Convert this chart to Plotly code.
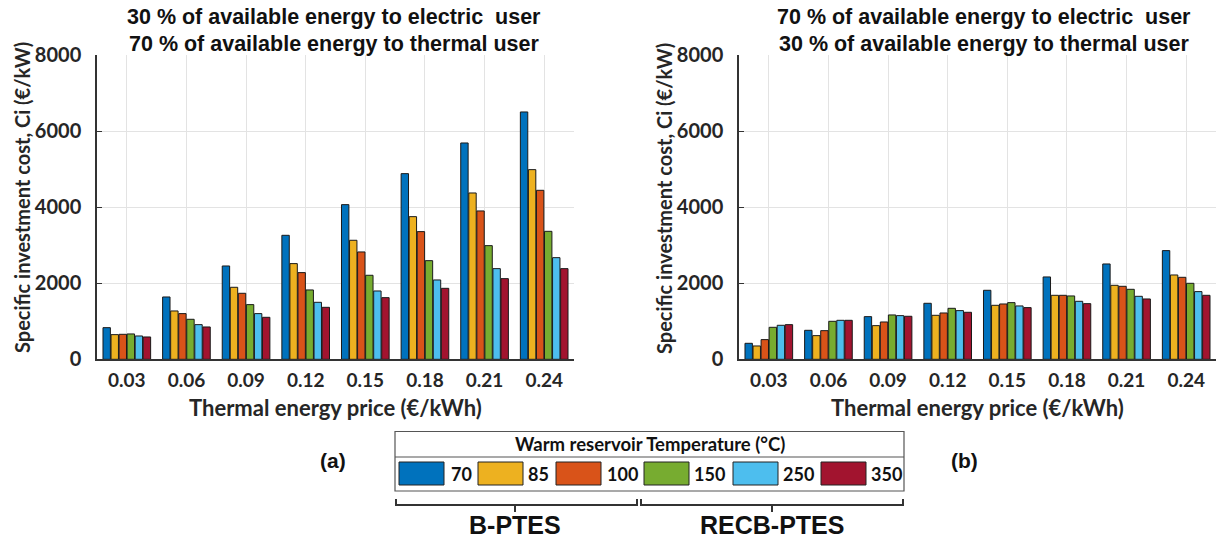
import plotly.graph_objects as go

W, H = 1221, 539

categories = ["0.03", "0.06", "0.09", "0.12", "0.15", "0.18", "0.21", "0.24"]
temps = ["70", "85", "100", "150", "250", "350"]
colors = ["#0072BD", "#EDB120", "#D95319", "#77AC30", "#4DBEEE", "#A2142F"]

# Panel (a): 30 % electric / 70 % thermal
a_70 = [833, 1640, 2456, 3263, 4070, 4886, 5693, 6509]
a_85 = [649, 1272, 1895, 2518, 3132, 3754, 4377, 4991]
a_100 = [658, 1202, 1737, 2281, 2825, 3360, 3904, 4447]
a_150 = [667, 1053, 1439, 1825, 2211, 2596, 2991, 3368]
a_250 = [614, 912, 1202, 1500, 1798, 2088, 2386, 2675]
a_350 = [588, 851, 1105, 1368, 1623, 1868, 2123, 2386]

# Panel (b): 70 % electric / 30 % thermal
b_70 = [421, 763, 1123, 1474, 1816, 2167, 2509, 2860]
b_85 = [351, 623, 886, 1158, 1421, 1684, 1947, 2219]
b_100 = [518, 754, 982, 1219, 1456, 1684, 1921, 2158]
b_150 = [842, 1000, 1167, 1342, 1491, 1667, 1842, 2000]
b_250 = [895, 1026, 1149, 1281, 1404, 1526, 1658, 1781]
b_350 = [912, 1026, 1132, 1237, 1360, 1465, 1588, 1684]

series_a = [a_70, a_85, a_100, a_150, a_250, a_350]
series_b = [b_70, b_85, b_100, b_150, b_250, b_350]

y_ticks = [0, 2000, 4000, 6000, 8000]
title_a = ["30 % of available energy to electric  user", "70 % of available energy to thermal user"]
title_b = ["70 % of available energy to electric  user", "30 % of available energy to thermal user"]
x_title = "Thermal energy price (€/kWh)"
y_title = "Specific investment cost, Ci (€/kW)"
legend_title = "Warm reservoir Temperature (°C)"
group_labels = ["B-PTES", "RECB-PTES"]
panel_labels = ["(a)", "(b)"]

TICKFONT = "Lato, 'Open Sans', sans-serif"
ARIAL = "'Liberation Sans', Arial, sans-serif"


def px(x):
    return x / W


def py(y):
    return 1 - y / H


def f(family, size, color="#1a1a1a"):
    return dict(family=family, size=size, color=color, weight="bold")


fig = go.Figure()

for i in range(6):
    fig.add_trace(go.Bar(x=categories, y=series_a[i], name=temps[i], xaxis="x", yaxis="y",
                         marker=dict(color=colors[i], line=dict(color="#1a1a1a", width=1)),
                         showlegend=False))
for i in range(6):
    fig.add_trace(go.Bar(x=categories, y=series_b[i], name=temps[i], xaxis="x2", yaxis="y2",
                         marker=dict(color=colors[i], line=dict(color="#1a1a1a", width=1)),
                         showlegend=False))

plot_top, plot_bot = 55.3, 359.3
axcommon_x = dict(type="category", showgrid=True, gridcolor="#e3e3e3", gridwidth=1,
                  showline=True, linecolor="#333333", linewidth=1.5, ticks="",
                  tickfont=f(TICKFONT, 19, "#262626"), automargin=False,
                  ticklabelstandoff=3, fixedrange=True)
axcommon_y = dict(range=[0, 8000], tickvals=y_ticks, showgrid=True, gridcolor="#e3e3e3",
                  gridwidth=1, showline=True, linecolor="#333333", linewidth=1.5,
                  ticks="inside", ticklen=5, tickcolor="#333333", zeroline=False,
                  tickfont=f(TICKFONT, 20, "#262626"), automargin=False,
                  ticklabelstandoff=10, fixedrange=True)

fig.update_layout(
    width=W, height=H, autosize=False, margin=dict(l=0, r=0, t=0, b=0, pad=0),
    paper_bgcolor="white", plot_bgcolor="white",
    barmode="group", bargap=0.19, bargroupgap=0.08,
    xaxis=dict(domain=[px(97), px(574)], anchor="y", **axcommon_x),
    yaxis=dict(domain=[py(plot_bot), py(plot_top)], anchor="x", **axcommon_y),
    xaxis2=dict(domain=[px(739), px(1216)], anchor="y2", **axcommon_x),
    yaxis2=dict(domain=[py(plot_bot), py(plot_top)], anchor="x2", **axcommon_y),
)

ann = []
shapes = []

# titles
for cx, lines in [(334, title_a), (984, title_b)]:
    for j, t in enumerate(lines):
        ann.append(dict(x=px(cx), y=py(17 + j * 27), xref="paper", yref="paper", text=t,
                        showarrow=False, xanchor="center", yanchor="middle",
                        font=f(ARIAL, 21.5, "#111111")))
for cx in [335.5, 977.5]:
    ann.append(dict(x=px(cx), y=py(407), xref="paper", yref="paper", text=x_title,
                    showarrow=False, xanchor="center", yanchor="middle",
                    font=f(TICKFONT, 22, "#262626")))

for cx in [22, 664]:
    ann.append(dict(x=px(cx), y=py(198), xref="paper", yref="paper", text=y_title,
                    showarrow=False, xanchor="center", yanchor="middle", textangle=-90,
                    font=f(TICKFONT, 20, "#262626")))

# panel labels
for cx, t in [(333, panel_labels[0]), (964, panel_labels[1])]:
    ann.append(dict(x=px(cx), y=py(460), xref="paper", yref="paper", text=t,
                    showarrow=False, xanchor="center", yanchor="middle",
                    font=f(ARIAL, 21, "#111111")))

# legend box
bx0, bx1, by0, by1, bdiv = 395, 904, 431.5, 491, 457
shapes.append(dict(type="rect", xref="paper", yref="paper", x0=px(bx0), x1=px(bx1),
                   y0=py(by1), y1=py(by0), line=dict(color="#555555", width=1.2),
                   fillcolor="white"))
shapes.append(dict(type="line", xref="paper", yref="paper", x0=px(bx0), x1=px(bx1),
                   y0=py(bdiv), y1=py(bdiv), line=dict(color="#555555", width=1.2)))
ann.append(dict(x=px((bx0 + bx1) / 2), y=py(444), xref="paper", yref="paper",
                text=legend_title, showarrow=False, xanchor="center", yanchor="middle",
                font=f(TICKFONT, 18.5, "#111111")))
sw_x = [399, 478, 556, 644, 733, 821]
lab_x = [449, 526, 605, 692, 781, 869]
for i in range(6):
    shapes.append(dict(type="rect", xref="paper", yref="paper", x0=px(sw_x[i]),
                       x1=px(sw_x[i] + 45), y0=py(485), y1=py(462),
                       fillcolor=colors[i], line=dict(color="#222222", width=1)))
    ann.append(dict(x=px(lab_x[i]), y=py(474), xref="paper", yref="paper", text=temps[i],
                    showarrow=False, xanchor="left", yanchor="middle",
                    font=f(TICKFONT, 18, "#111111")))

# braces
for (x0, x1, cx) in [(396, 637, 515), (641, 903, 772)]:
    path = (f"M {px(x0)},{py(499)} L {px(x0)},{py(505)} L {px(x1)},{py(505)} "
            f"L {px(x1)},{py(499)} M {px(cx)},{py(505)} L {px(cx)},{py(512)}")
    shapes.append(dict(type="path", xref="paper", yref="paper", path=path,
                       line=dict(color="#333333", width=2)))

for cx, t in [(515, group_labels[0]), (772, group_labels[1])]:
    ann.append(dict(x=px(cx), y=py(525), xref="paper", yref="paper", text=t,
                    showarrow=False, xanchor="center", yanchor="middle",
                    font=f(ARIAL, 25, "#111111")))

fig.update_layout(annotations=ann, shapes=shapes)
fig.write_html("out.html")
